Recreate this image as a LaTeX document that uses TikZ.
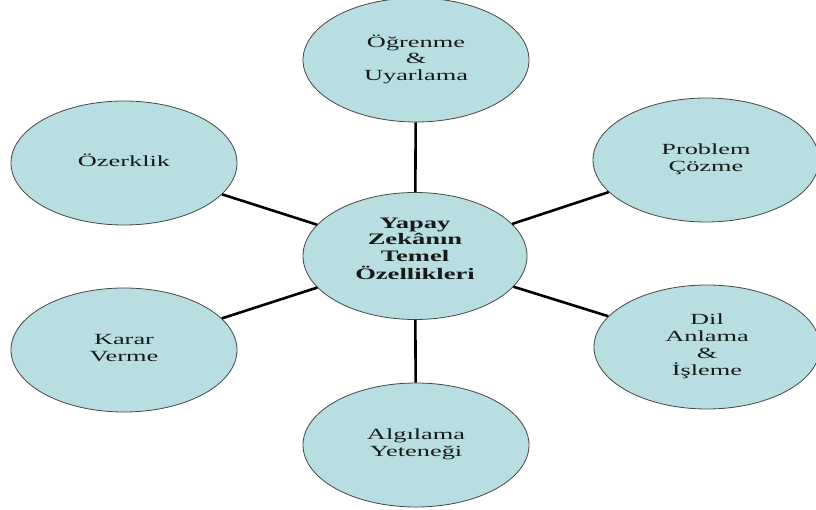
\documentclass[tikz,border=0pt]{standalone}
\usepackage{fontspec}
\usepackage{graphicx}
\setmainfont{Liberation Serif}
\usetikzlibrary{shapes.geometric}
\definecolor{fillc}{RGB}{184,222,226}
\definecolor{edgec}{RGB}{70,70,70}
\definecolor{textc}{RGB}{25,25,25}
\newcommand\stx[1]{\scalebox{1.7}[1]{\begin{tabular}{@{}c@{}}#1\end{tabular}}}
\newcommand\stb[1]{\scalebox{1.66}[1]{\begin{tabular}{@{}c@{}}#1\end{tabular}}}
\begin{document}
\begin{tikzpicture}[x=1pt,y=-1pt,
  bubble/.style={ellipse, draw=edgec, line width=0.8pt, fill=fillc,
    minimum width=226pt, minimum height=124pt, inner sep=0pt, align=center,
    text=textc, font=\fontsize{15.5}{16.7}\selectfont},
  hub/.style={bubble, minimum width=224pt, minimum height=127pt,
    font=\fontsize{16}{16.7}\selectfont\bfseries},
  link/.style={line width=2.6pt, black}]
\useasboundingbox (0,0) rectangle (816,510);
\node[hub] (c) at (415,256) {\stb{Yapay\\Zekânın\\Temel\\Özellikleri\\[-6pt] {}}};
\node[bubble] (o) at (416,60) {\stx{Öğrenme\\\&\\Uyarlama}};
\node[bubble] (z) at (124,163) {\stx{Özerklik}};
\node[bubble] (p) at (706,160) {\stx{Problem\\Çözme}};
\node[bubble] (k) at (124,350) {\stx{Karar\\Verme}};
\node[bubble] (d) at (707,347) {\stx{Dil\\Anlama\\\&\\İşleme}};
\node[bubble] (a) at (416,445) {\stx{Algılama\\Yeteneği}};
\draw[link] (c) -- (o);
\draw[link] (c) -- (z);
\draw[link] (c) -- (p);
\draw[link] (c) -- (k);
\draw[link] (c) -- (d);
\draw[link] (c) -- (a);
\end{tikzpicture}
\end{document}
